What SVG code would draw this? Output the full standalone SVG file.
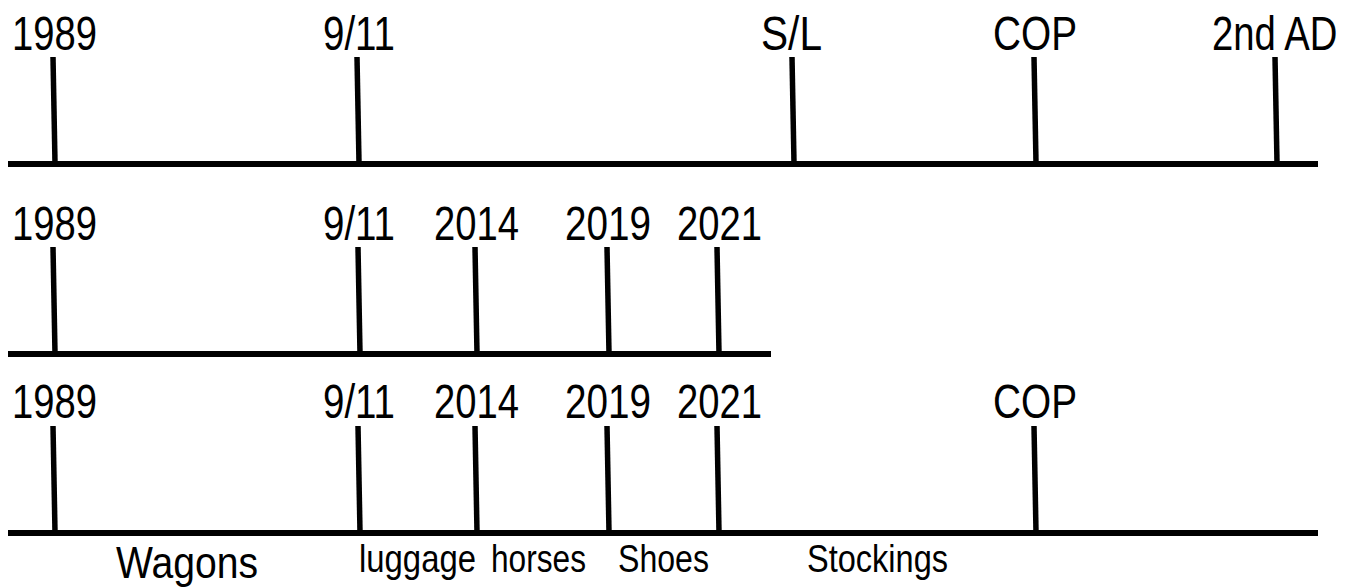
<svg xmlns="http://www.w3.org/2000/svg" width="1356" height="588" viewBox="0 0 1356 588">
<style>
.lbl{font-family:"Liberation Sans Narrow","Liberation Sans",Arial,sans-serif;font-size:49px;fill:#000}
.big{font-size:45px}
.sm{font-size:39px}
.tick{stroke:#000;stroke-width:5.5;fill:none}
.axis{stroke:#000;stroke-width:6;fill:none}
</style>
<rect width="1356" height="588" fill="#fff"/>
<g id="connectors">
<line class="axis" x1="8" y1="164" x2="1318" y2="164"/>
<line class="axis" x1="8" y1="354" x2="771" y2="354"/>
<line class="axis" x1="8" y1="533" x2="1318" y2="533"/>
</g>
<g id="r1-1989"><line class="tick" x1="53" y1="57" x2="55" y2="163"/><text class="lbl" x="12" y="50" textLength="85" lengthAdjust="spacingAndGlyphs">1989</text></g>
<g id="r1-911"><line class="tick" x1="357" y1="57" x2="359" y2="163"/><text class="lbl" x="323" y="50" textLength="72" lengthAdjust="spacingAndGlyphs">9/11</text></g>
<g id="r1-sl"><line class="tick" x1="792" y1="57" x2="794" y2="163"/><text class="lbl" x="761" y="50" textLength="61" lengthAdjust="spacingAndGlyphs">S/L</text></g>
<g id="r1-cop"><line class="tick" x1="1034" y1="57" x2="1036" y2="163"/><text class="lbl" x="993" y="50" textLength="84" lengthAdjust="spacingAndGlyphs">COP</text></g>
<g id="r1-2ndad"><line class="tick" x1="1275" y1="57" x2="1277" y2="163"/><text class="lbl" transform="translate(1212 50) scale(0.77 1)" x="0" y="0" textLength="163" lengthAdjust="spacingAndGlyphs">2nd AD</text></g>

<g id="r2-1989"><line class="tick" x1="53" y1="247" x2="55" y2="353"/><text class="lbl" x="12" y="240" textLength="85" lengthAdjust="spacingAndGlyphs">1989</text></g>
<g id="r2-911"><line class="tick" x1="358" y1="247" x2="360" y2="353"/><text class="lbl" x="323" y="240" textLength="72" lengthAdjust="spacingAndGlyphs">9/11</text></g>
<g id="r2-2014"><line class="tick" x1="475" y1="247" x2="477" y2="353"/><text class="lbl" x="434" y="240" textLength="85" lengthAdjust="spacingAndGlyphs">2014</text></g>
<g id="r2-2019"><line class="tick" x1="607" y1="247" x2="609" y2="353"/><text class="lbl" x="565" y="240" textLength="86" lengthAdjust="spacingAndGlyphs">2019</text></g>
<g id="r2-2021"><line class="tick" x1="717" y1="247" x2="719" y2="353"/><text class="lbl" x="677" y="240" textLength="85" lengthAdjust="spacingAndGlyphs">2021</text></g>

<g id="r3-1989"><line class="tick" x1="53" y1="426" x2="55" y2="532"/><text class="lbl" x="12" y="418" textLength="85" lengthAdjust="spacingAndGlyphs">1989</text></g>
<g id="r3-911"><line class="tick" x1="358" y1="426" x2="360" y2="532"/><text class="lbl" x="323" y="418" textLength="72" lengthAdjust="spacingAndGlyphs">9/11</text></g>
<g id="r3-2014"><line class="tick" x1="475" y1="426" x2="477" y2="532"/><text class="lbl" x="434" y="418" textLength="85" lengthAdjust="spacingAndGlyphs">2014</text></g>
<g id="r3-2019"><line class="tick" x1="607" y1="426" x2="609" y2="532"/><text class="lbl" x="565" y="418" textLength="86" lengthAdjust="spacingAndGlyphs">2019</text></g>
<g id="r3-2021"><line class="tick" x1="717" y1="426" x2="719" y2="532"/><text class="lbl" x="677" y="418" textLength="85" lengthAdjust="spacingAndGlyphs">2021</text></g>
<g id="r3-cop"><line class="tick" x1="1034" y1="426" x2="1036" y2="532"/><text class="lbl" x="993" y="418" textLength="84" lengthAdjust="spacingAndGlyphs">COP</text></g>

<g id="p-wagons"><text class="lbl big" x="116" y="578" textLength="142" lengthAdjust="spacingAndGlyphs">Wagons</text></g>
<g id="p-luggage"><text class="lbl sm" x="359" y="572" textLength="117" lengthAdjust="spacingAndGlyphs">luggage</text></g>
<g id="p-horses"><text class="lbl sm" x="491" y="572" textLength="95" lengthAdjust="spacingAndGlyphs">horses</text></g>
<g id="p-shoes"><text class="lbl sm" x="618" y="572" textLength="91" lengthAdjust="spacingAndGlyphs">Shoes</text></g>
<g id="p-stockings"><text class="lbl sm" x="807" y="572" textLength="141" lengthAdjust="spacingAndGlyphs">Stockings</text></g>
</svg>
